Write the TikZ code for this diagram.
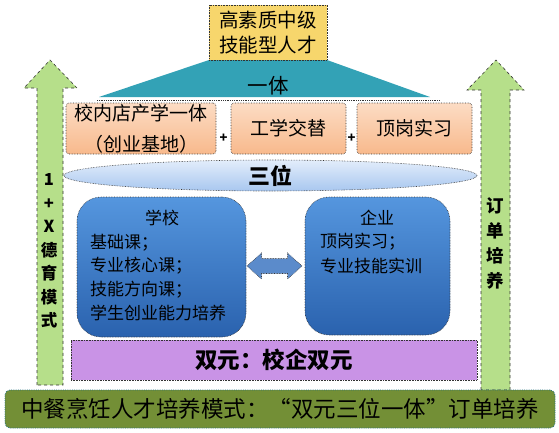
\documentclass[tikz,border=0pt]{standalone}
\usepackage{fontspec}
\setmainfont{Noto Sans CJK SC}
\usetikzlibrary{shapes.geometric,calc}
\definecolor{cyellow}{HTML}{F7D66C}
\definecolor{cteal}{HTML}{33A2B6}
\definecolor{corangeA}{HTML}{FCDCC4}
\definecolor{corangeB}{HTML}{F8B98C}
\definecolor{cellA}{HTML}{E3EDFB}
\definecolor{cellB}{HTML}{A8C7EF}
\definecolor{cblueA}{HTML}{5596DE}
\definecolor{cblueB}{HTML}{2A62AE}
\definecolor{cpurple}{HTML}{C993E6}
\definecolor{cgreen}{HTML}{B6DF8A}
\definecolor{colive}{HTML}{738F36}
\definecolor{carrow}{HTML}{5B8BCB}
\tikzset{
  dotb/.style={draw=black!80, densely dotted, line width=0.6pt},
  ybox/.style={dotb, fill=cyellow, minimum width=118pt, minimum height=55pt, align=center, inner sep=0pt, font=\fontsize{19.5}{25}\selectfont},
  obox/.style={dotb, top color=corangeA, bottom color=corangeB, rounded corners=3pt, minimum height=51pt, inner sep=0pt, align=center, font=\fontsize{19}{31}\selectfont},
  bbox/.style={dotb, top color=cblueA, bottom color=cblueB, rounded corners=24pt},
  btxt/.style={anchor=west, inner sep=0pt, font=\fontsize{17}{18}\selectfont},
  garrow/.style={draw=black!80, dashed, line width=0.6pt, fill=cgreen},
  vtxt/.style={align=center, inner sep=0pt, font=\bfseries\fontsize{16.5}{23.5}\selectfont},
  plusmark/.style={inner sep=0pt, font=\bfseries\fontsize{13}{13}\selectfont},
  blockarrow/.style={dotb, fill=carrow}
}
\begin{document}
\begin{tikzpicture}[x=1pt,y=-1pt]
\useasboundingbox (0,0) rectangle (559,432);
% green arrows
\draw[garrow] (37,385) -- (37,88) -- (24,88) -- (50,60) -- (77,88) -- (63,88) -- (63,385) -- cycle;
\draw[garrow] (481,390) -- (481,90) -- (467,90) -- (496,60) -- (524,90) -- (510,90) -- (510,390) -- cycle;
\node[vtxt] (leftlabel) at (49,251) {1\\+\\X\\德\\育\\模\\式};
\node[vtxt, font=\bfseries\fontsize{17.5}{25}\selectfont] (rightlabel) at (495,243) {订\\单\\培\\养};
% top box and trapezoid
\fill[cteal] (209,60) -- (327,60) -- (430,97) -- (99,97) -- cycle;
\node[ybox] (top) at (268,32.5) {高素质中级\\技能型人才};
\node[inner sep=0pt, font=\fontsize{20.5}{20.5}\selectfont] (yiti) at (268,86) {一体};
\draw[black!80, densely dotted, line width=0.8pt] (97,100) -- (440,100);
% row of boxes
\node[obox, minimum width=150pt] (b1) at (141,128.5) {校内店产学一体\\（创业基地）};
\node[obox, minimum width=115pt] (b2) at (288.5,128.5) {工学交替};
\node[obox, minimum width=115pt] (b3) at (414.5,128.5) {顶岗实习};
\node[plusmark] (p1) at ($(b1.east)!0.5!(b2.west)+(0,10)$) {+};
\node[plusmark] (p2) at ($(b2.east)!0.5!(b3.west)+(0,10)$) {+};
% ellipse
\node[ellipse, dotb, top color=cellA, bottom color=cellB, minimum width=413pt, minimum height=31pt, inner sep=0pt, font=\bfseries\fontsize{22}{22}\selectfont] (sanwei) at (270.5,175.5) {三位};
% school & enterprise
\node[bbox, minimum width=169pt, minimum height=140pt] (school) at (161.5,267) {};
\node[bbox, minimum width=145pt, minimum height=138pt] (ent) at (377.5,266) {};
\node[inner sep=0pt, font=\fontsize{17}{18}\selectfont] (st) at (162,218) {学校};
\node[btxt] (s1) at (90,243) {基础课；};
\node[btxt] (s2) at (90,266) {专业核心课；};
\node[btxt] (s3) at (90,290) {技能方向课；};
\node[btxt] (s4) at (90,313) {学生创业能力培养};
\node[inner sep=0pt, font=\fontsize{17}{18}\selectfont] (et) at (377,218) {企业};
\node[btxt] (e1) at (320,242) {顶岗实习；};
\node[btxt] (e2) at (320,266) {专业技能实训};
% double block arrow between school and enterprise
\coordinate (dblc) at (274.5,266);
\draw[blockarrow, shift={(dblc)}] (-27.5,0) -- (-13,-13) -- (-13,-7.5) -- (13,-7.5) -- (13,-13) -- (27.5,0) -- (13,13) -- (13,7.5) -- (-13,7.5) -- (-13,13) -- cycle;
% purple bar
\node[dotb, fill=cpurple, minimum width=406pt, minimum height=40pt, inner sep=0pt, font=\bfseries\fontsize{22.5}{22.5}\selectfont] (dual) at (274,360) {双元：校企双元};
% bottom bar
\node[draw=cteal!70!black, densely dotted, line width=0.8pt, fill=colive, rounded corners=5pt, minimum width=550pt, minimum height=38pt, inner sep=0pt, font=\fontsize{22.5}{22.5}\selectfont] (bottom) at (280,409) {中餐烹饪人才培养模式：“双元三位一体”订单培养};
\end{tikzpicture}
\end{document}
